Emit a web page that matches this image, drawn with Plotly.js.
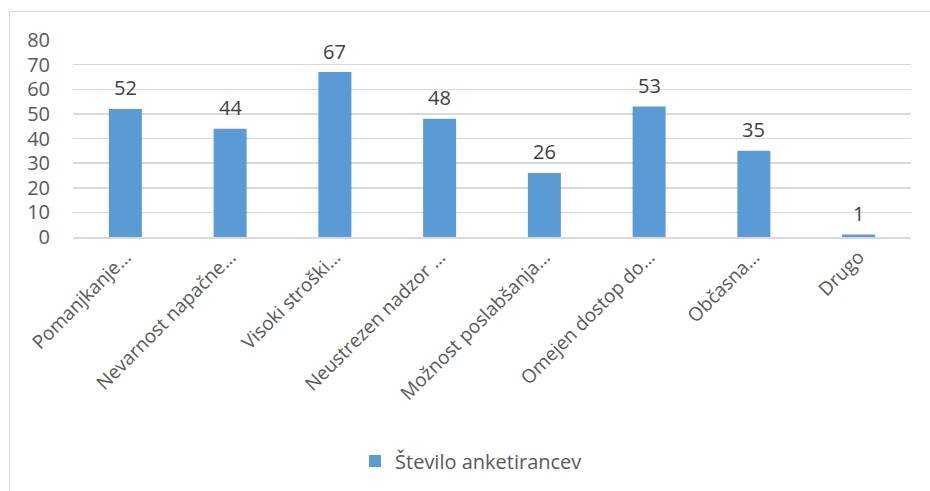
<!DOCTYPE html>
<html>
<head>
<meta charset="utf-8">
<script src="https://cdn.plot.ly/plotly-3.0.1.min.js"></script>
<style>
html,body{margin:0;padding:0;background:#fff;overflow:hidden;}
#frame{position:absolute;left:9px;top:11px;width:1000px;height:1000px;border:1.5px solid #d9d9d9;box-sizing:border-box;}
#chart{position:absolute;left:0;top:0;width:930px;height:491px;}
</style>
</head>
<body>
<div id="frame"></div>
<div id="chart"></div>
<script>
const categories = [
  "Pomanjkanje…",
  "Nevarnost napačne…",
  "Visoki stroški…",
  "Neustrezen nadzor …",
  "Možnost poslabšanja…",
  "Omejen dostop do…",
  "Občasna…",
  "Drugo"
];
const values = [52, 44, 67, 48, 26, 53, 35, 1];
const seriesName = "Število anketirancev";
const yTicks = [0, 10, 20, 30, 40, 50, 60, 70, 80];

const font = "'Open Sans', 'Noto Sans', sans-serif";
const trace = {
  type: 'bar',
  x: categories,
  y: values,
  name: seriesName,
  marker: {color: '#5b9bd5'},
  showlegend: true
};
const labels = categories.map((c, i) => ({
  x: c, y: values[i], xref: 'x', yref: 'y',
  text: String(values[i]), showarrow: false,
  yanchor: 'middle', yshift: 21,
  font: {size: 20, color: '#404040', family: font}
}));
const layout = {
  width: 930, height: 491,
  margin: {l: 73, r: 19, t: 40, b: 253},
  paper_bgcolor: 'rgba(0,0,0,0)',
  plot_bgcolor: 'rgba(0,0,0,0)',
  bargap: 0.685,
  font: {family: font, color: '#595959', size: 19},
  annotations: labels,
  xaxis: {
    tickangle: -45,
    showgrid: false,
    showline: true,
    linecolor: '#d9d9d9',
    linewidth: 1.5,
    ticks: '',
    tickfont: {size: 19, color: '#595959'},
    fixedrange: true
  },
  yaxis: {
    range: [0, 80],
    tickvals: yTicks,
    ticktext: yTicks.map(String),
    showgrid: true,
    gridcolor: '#d9d9d9',
    gridwidth: 1.5,
    zeroline: false,
    showline: false,
    ticks: '',
    ticklabelstandoff: 22,
    tickfont: {size: 20, color: '#595959'},
    fixedrange: true
  },
  legend: {
    orientation: 'h',
    x: 0.475, xanchor: 'center',
    y: -1.126, yanchor: 'middle',
    font: {size: 20, color: '#595959'},
    itemwidth: 30
  },
  showlegend: true
};
Plotly.newPlot('chart', [trace], layout, {staticPlot: true, displayModeBar: false});
</script>
</body>
</html>
